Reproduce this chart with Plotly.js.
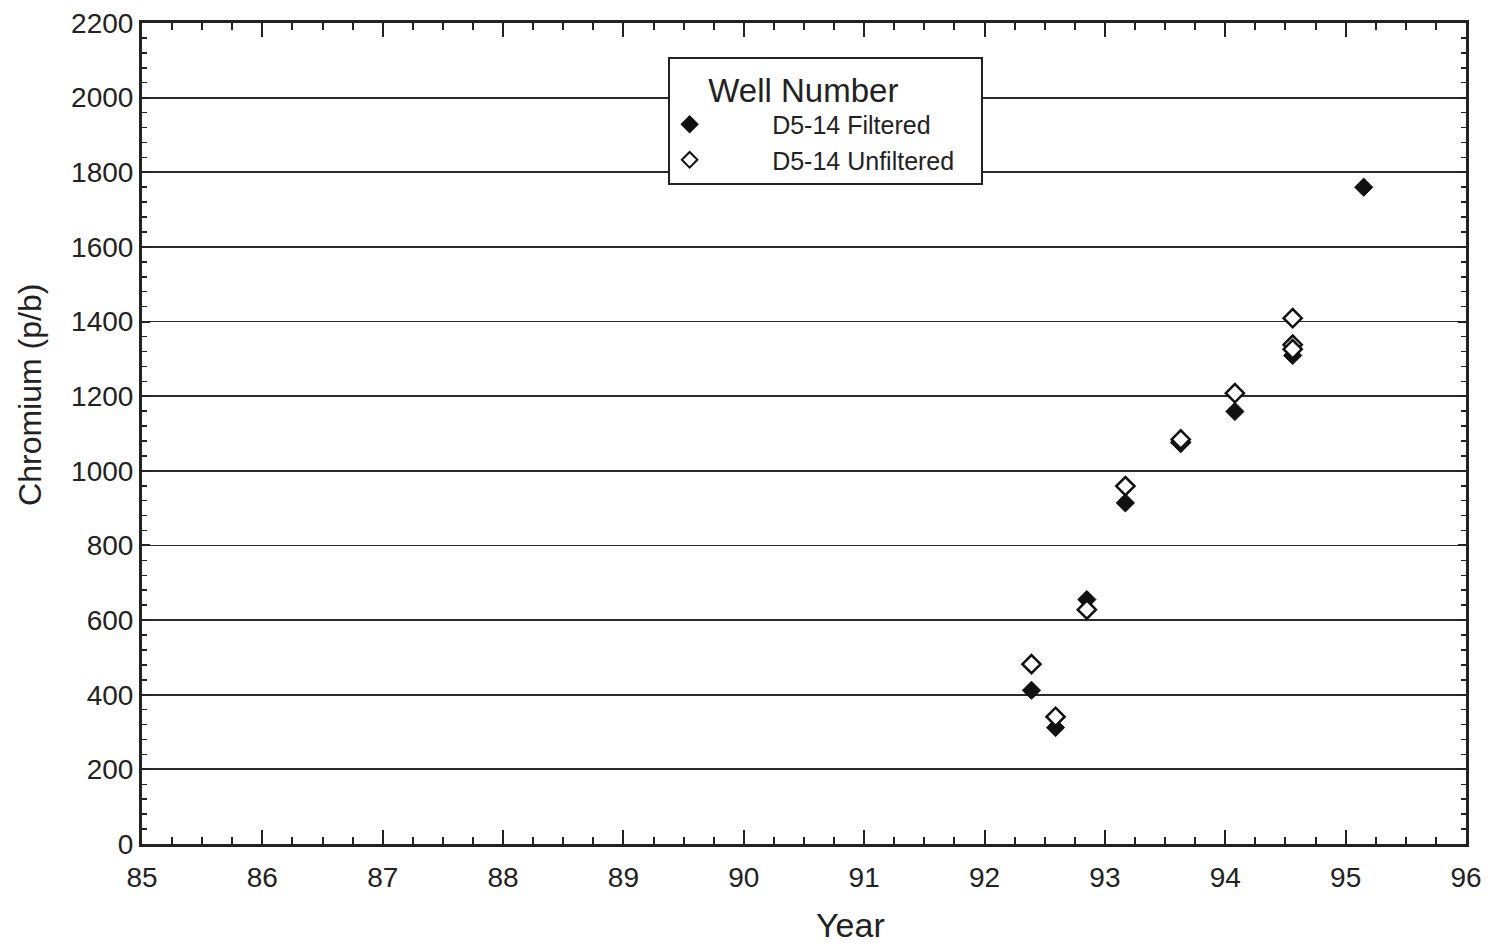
<!DOCTYPE html>
<html>
<head>
<meta charset="utf-8">
<script src="https://cdn.plot.ly/plotly-3.0.1.min.js"></script>
<style>html,body{margin:0;padding:0;background:#fff;}#chart{width:1491px;height:943px;}</style>
</head>
<body>
<div id="chart"></div>
<script>
// Data
const filteredYear = [92.39, 92.59, 92.85, 93.17, 94.08, 94.56, 95.15];
const filteredCr   = [412, 312, 655, 914, 1159, 1309, 1760];
const unfilteredYear = [92.39, 92.59, 92.85, 93.17, 93.63, 93.63, 94.08, 94.56, 94.56, 94.56];
const unfilteredCr   = [482, 341, 628, 959, 1076, 1084, 1208, 1409, 1338, 1326];
const seriesNames = ["D5-14 Filtered", "D5-14 Unfiltered"];
const legendTitle = "Well Number";
const xTitle = "Year";
const yTitle = "Chromium (p/b)";

const FONT = "Liberation Sans, Arial, Helvetica, sans-serif";
const NB = "\u00a0";
const pad = n => NB.repeat(n);

const traces = [
  {
    x: filteredYear, y: filteredCr, name: pad(9) + seriesNames[0],
    type: "scatter", mode: "markers",
    marker: {symbol: "diamond", size: 14, color: "#111", line: {color: "#111", width: 1}}
  },
  {
    x: unfilteredYear, y: unfilteredCr, name: pad(9) + seriesNames[1] + pad(3),
    type: "scatter", mode: "markers",
    marker: {symbol: "diamond", size: 14, color: "#fff", line: {color: "#111", width: 2.5}}
  }
];

const layout = {
  width: 1491, height: 943,
  paper_bgcolor: "#fff", plot_bgcolor: "#fff",
  margin: {l: 142, r: 25, t: 23, b: 99},
  font: {family: FONT, color: "#222"},
  showlegend: true,
  legend: {
    x: 0.397, y: 0.959, xanchor: "left", yanchor: "top",
    bgcolor: "#fff", bordercolor: "#222", borderwidth: 2,
    font: {family: FONT, size: 25, color: "#222"},
    title: {text: pad(4) + legendTitle, font: {family: FONT, size: 33, color: "#222"}, side: "top"},
    itemwidth: 30,
    itemsizing: "constant",
    tracegroupgap: 0
  },
  xaxis: {
    range: [85, 96], dtick: 1, tick0: 85,
    showgrid: false, zeroline: false,
    showline: true, linecolor: "#222", linewidth: 3, mirror: "ticks",
    ticks: "inside", ticklen: 14, tickwidth: 2, tickcolor: "#222",
    minor: {dtick: 0.25, ticks: "inside", ticklen: 7, tickwidth: 2, tickcolor: "#222"},
    tickfont: {family: FONT, size: 28, color: "#222"},
    ticklabelstandoff: 6
  },
  yaxis: {
    range: [0, 2200], dtick: 200, tick0: 0,
    showgrid: true, gridcolor: "#2a2a2a", gridwidth: 1.8,
    zeroline: false,
    showline: true, linecolor: "#222", linewidth: 3, mirror: "ticks",
    ticks: "inside", ticklen: 8, tickwidth: 2, tickcolor: "#222",
    minor: {dtick: 40, ticks: "inside", ticklen: 5, tickwidth: 1.5, tickcolor: "#222", showgrid: false},
    tickfont: {family: FONT, size: 28, color: "#222"}
  },
  annotations: [
    {text: xTitle, xref: "paper", yref: "paper", x: 0.535, y: -0.0987,
     xanchor: "center", yanchor: "middle", showarrow: false,
     font: {family: FONT, size: 34, color: "#222"}},
    {text: yTitle, xref: "paper", yref: "paper", x: -0.0846, y: 0.547,
     xanchor: "center", yanchor: "middle", showarrow: false, textangle: -90,
     font: {family: FONT, size: 32, color: "#222"}}
  ]
};

Plotly.newPlot("chart", traces, layout, {displayModeBar: false, staticPlot: true});
</script>
</body>
</html>
